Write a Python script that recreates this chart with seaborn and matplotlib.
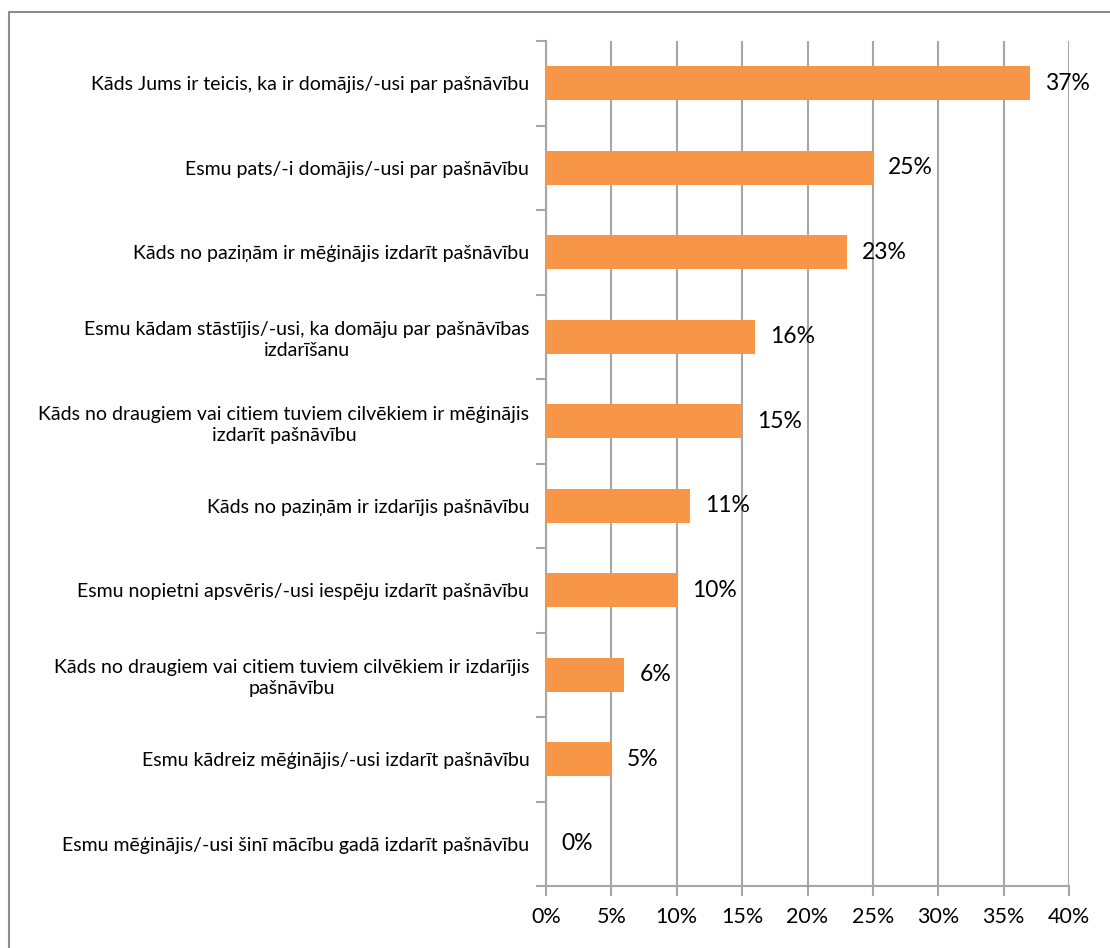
import matplotlib
matplotlib.use("Agg")
import matplotlib.pyplot as plt
from matplotlib.lines import Line2D
from matplotlib.ticker import FixedLocator, PercentFormatter
import seaborn as sns
import pandas as pd

categories = [
    "Kāds Jums ir teicis, ka ir domājis/-usi par pašnāvību",
    "Esmu pats/-i domājis/-usi par pašnāvību",
    "Kāds no paziņām ir mēģinājis izdarīt pašnāvību",
    "Esmu kādam stāstījis/-usi, ka domāju par pašnāvības\nizdarīšanu",
    "Kāds no draugiem vai citiem tuviem cilvēkiem ir mēģinājis\nizdarīt pašnāvību",
    "Kāds no paziņām ir izdarījis pašnāvību",
    "Esmu nopietni apsvēris/-usi iespēju izdarīt pašnāvību",
    "Kāds no draugiem vai citiem tuviem cilvēkiem ir izdarījis\npašnāvību",
    "Esmu kādreiz mēģinājis/-usi izdarīt pašnāvību",
    "Esmu mēģinājis/-usi šinī mācību gadā izdarīt pašnāvību",
]
values = [37, 25, 23, 16, 15, 11, 10, 6, 5, 0]
x_ticks = [0, 5, 10, 15, 20, 25, 30, 35, 40]

sns.set_theme(style="white")
plt.rcParams["font.family"] = ["Lato", "DejaVu Sans"]

df = pd.DataFrame({"category": categories, "value": values})

fig = plt.figure(figsize=(11.1, 9.48), dpi=100)
ax = fig.add_axes([546 / 1110, 1 - 886 / 948, (1069 - 546) / 1110, (886 - 41) / 948])

grid_col = "#A6A6A6"
orange = "#F79646"

sns.barplot(data=df, x="value", y="category", orient="h", color=orange,
            width=0.4, saturation=1, linewidth=0, edgecolor="none",
            ax=ax, zorder=3)

ax.set_xlim(0, 40)
ax.set_ylim(len(categories) - 0.5, -0.5)
ax.set_xlabel("")
ax.set_ylabel("")

# vertical gridlines
ax.xaxis.set_major_locator(FixedLocator(x_ticks))
ax.xaxis.set_major_formatter(PercentFormatter(decimals=0))
ax.grid(axis="x", color=grid_col, linewidth=1.5, zorder=0)
ax.set_axisbelow(True)

for side in ["top", "right"]:
    ax.spines[side].set_visible(False)
for side in ["left", "bottom"]:
    ax.spines[side].set_color(grid_col)
    ax.spines[side].set_linewidth(1.5)

ax.tick_params(axis="x", which="major", bottom=True, length=7, width=1.5,
               color=grid_col, labelsize=15.5, labelcolor="black", pad=8)
ax.tick_params(axis="y", which="major", left=False, labelsize=14,
               labelcolor="black", pad=6)
ax.yaxis.set_minor_locator(FixedLocator([i - 0.5 for i in range(len(categories) + 1)]))
ax.tick_params(axis="y", which="minor", left=True, length=7, width=1.5, color=grid_col)

for lbl in ax.get_yticklabels():
    lbl.set_multialignment("center")
    lbl.set_linespacing(1.3)

# value labels beside each bar
for i, v in enumerate(values):
    ax.annotate(f"{v}%", xy=(v, i), xytext=(11, 0), textcoords="offset points",
                ha="left", va="center", fontsize=16.5, color="black",
                annotation_clip=False, zorder=4)

# chart area frame
fig.add_artist(Line2D([9 / 1110, 9 / 1110], [0, 1 - 12 / 948],
                      transform=fig.transFigure, color="#8C8C8C", linewidth=1.5))
fig.add_artist(Line2D([9 / 1110, 1], [1 - 12 / 948, 1 - 12 / 948],
                      transform=fig.transFigure, color="#8C8C8C", linewidth=1.5))

fig.savefig("out.png", dpi=100, facecolor="white")
